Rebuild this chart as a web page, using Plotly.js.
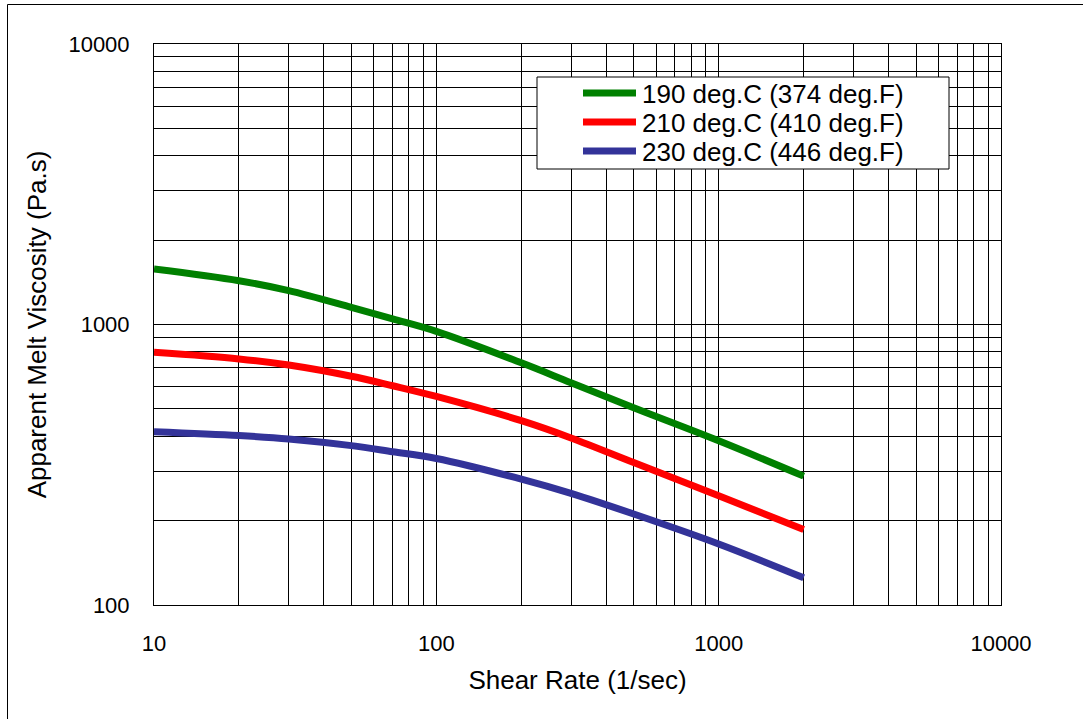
<!DOCTYPE html>
<html>
<head>
<meta charset="utf-8">
<script src="https://cdn.plot.ly/plotly-3.0.1.min.js"></script>
<style>
  html, body { margin: 0; padding: 0; background: #fff; }
  #chart { width: 1083px; height: 719px; }
</style>
</head>
<body>
<div id="chart"></div>
<script>
// Shear rate (1/sec)
const shearRate = [10, 20, 30, 50, 70, 100, 200, 300, 500, 1000, 2000];
// Apparent melt viscosity (Pa.s)
const visc190 = [1577, 1432, 1320, 1151, 1047, 945, 730, 620, 505, 385, 288];
const visc210 = [796, 754, 717, 654, 605, 554, 454, 394, 322, 245, 186];
const visc230 = [415, 402, 391, 370, 352, 333, 281, 250, 211, 165, 125];

const seriesNames = ["190 deg.C (374 deg.F)", "210 deg.C (410 deg.F)", "230 deg.C (446 deg.F)"];
const seriesColors = ["#008000", "#FF0000", "#333399"];

const xTickVals = [10, 100, 1000, 10000];
const xTickText = ["10", "100", "1000", "10000"];
const xMinorVals = [20,30,40,50,60,70,80,90,200,300,400,500,600,700,800,900,2000,3000,4000,5000,6000,7000,8000,9000];
const yTickVals = [100, 1000, 10000];
const yTickText = ["100", "1000", "10000"];
const yMinorVals = [200,300,400,500,600,700,800,900,2000,3000,4000,5000,6000,7000,8000,9000];

const seriesValues = [visc190, visc210, visc230];
const traces = seriesValues.map((v, i) => ({
  x: shearRate,
  y: v,
  type: "scatter",
  mode: "lines",
  name: seriesNames[i],
  showlegend: false,
  line: { color: seriesColors[i], width: 7, shape: "spline", smoothing: 1 }
}));

const FONT = "Liberation Sans, Arial, sans-serif";
const L = 154, R = 82, T = 44, B = 114;
const W = 1083, H = 719;
const pw = W - L - R, ph = H - T - B;
const px2x = p => (p - L) / pw;
const px2y = p => (H - B - p) / ph;

// legend box (drawn with paper-referenced shapes + annotations)
const legBox = { x0: 537, x1: 949, y0: 77, y1: 169 };
const legRowY = [93, 122, 151];
const legLineX = [583, 636];
const legTextX = 640;

const shapes = [
  { type: "path", xref: "paper", yref: "paper",
    path: `M ${px2x(7.5)} ${px2y(730)} L ${px2x(7.5)} ${px2y(4.5)} L ${px2x(1100)} ${px2y(4.5)}`,
    line: { color: "#000", width: 1 }, layer: "above" },
  { type: "rect", xref: "paper", yref: "paper",
    x0: px2x(legBox.x0), x1: px2x(legBox.x1), y0: px2y(legBox.y0), y1: px2y(legBox.y1),
    fillcolor: "#fff", line: { color: "#000", width: 1 }, layer: "above" }
];
const annotations = [];
seriesNames.forEach((name, i) => {
  shapes.push({ type: "line", xref: "paper", yref: "paper",
    x0: px2x(legLineX[0]), x1: px2x(legLineX[1]), y0: px2y(legRowY[i]), y1: px2y(legRowY[i]),
    line: { color: seriesColors[i], width: 7 }, layer: "above" });
  annotations.push({ xref: "paper", yref: "paper", x: px2x(legTextX), y: px2y(legRowY[i] + 1),
    xanchor: "left", yanchor: "middle", showarrow: false, text: name,
    font: { family: FONT, size: 26, color: "#000" } });
});

const layout = {
  width: W, height: H,
  margin: { l: L, r: R, t: T, b: B, pad: 0 },
  paper_bgcolor: "#fff",
  plot_bgcolor: "#fff",
  font: { family: FONT, color: "#000", size: 22 },
  showlegend: false,
  xaxis: {
    type: "log",
    range: [1, 4],
    tickmode: "array", tickvals: xTickVals, ticktext: xTickText,
    ticks: "", ticklabelstandoff: 19,
    tickfont: { family: FONT, size: 22, color: "#000" },
    showgrid: true, gridcolor: "#000", gridwidth: 1,
    minor: { tickmode: "array", tickvals: xMinorVals, showgrid: true, gridcolor: "#000", gridwidth: 1, ticks: "" },
    showline: true, linecolor: "#000", linewidth: 1, mirror: true,
    zeroline: false,
    title: { text: "Shear Rate (1/sec)", font: { family: FONT, size: 26, color: "#000" }, standoff: 15 }
  },
  yaxis: {
    type: "log",
    range: [2, 4],
    tickmode: "array", tickvals: yTickVals, ticktext: yTickText,
    ticks: "", ticklabelstandoff: 19,
    tickfont: { family: FONT, size: 22, color: "#000" },
    showgrid: true, gridcolor: "#000", gridwidth: 1,
    minor: { tickmode: "array", tickvals: yMinorVals, showgrid: true, gridcolor: "#000", gridwidth: 1, ticks: "" },
    showline: true, linecolor: "#000", linewidth: 1, mirror: true,
    zeroline: false,
    title: { text: "Apparent Melt Viscosity (Pa.s)", font: { family: FONT, size: 26, color: "#000" }, standoff: 14 }
  },
  shapes: shapes,
  annotations: annotations
};

Plotly.newPlot("chart", traces, layout, { displayModeBar: false, staticPlot: true });
</script>
</body>
</html>
